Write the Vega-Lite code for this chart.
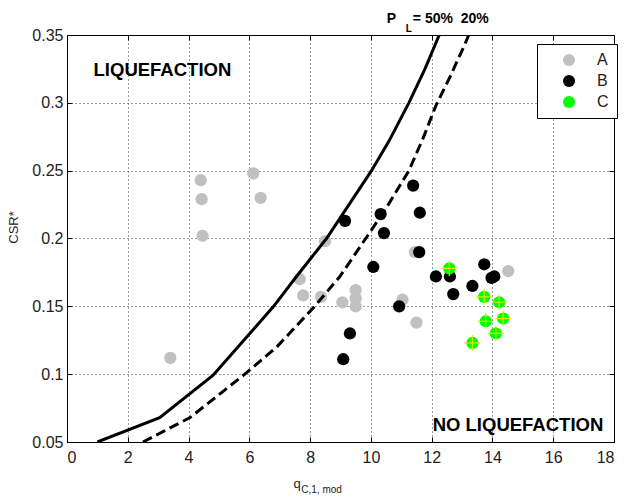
{
  "$schema": "https://vega.github.io/schema/vega-lite/v6.json",
  "width": 547,
  "height": 407,
  "autosize": {"type": "none"},
  "padding": {"left": 67, "top": 35, "right": 13, "bottom": 55},
  "background": "white",
  "config": {
    "font": "Liberation Sans",
    "view": {"stroke": "black", "strokeWidth": 1},
    "axis": {
      "labelFont": "Liberation Sans",
      "labelFontSize": 16,
      "labelColor": "#222222",
      "domainColor": "black",
      "tickColor": "black",
      "gridColor": "#333333",
      "gridDash": [1, 3],
      "gridWidth": 1,
      "tickSize": -5
    }
  },
  "datasets": {
    "pts": [
      {"q": 3.4, "csr": 0.112, "group": "A"},
      {"q": 4.4, "csr": 0.243, "group": "A"},
      {"q": 4.43, "csr": 0.229, "group": "A"},
      {"q": 4.46, "csr": 0.202, "group": "A"},
      {"q": 6.13, "csr": 0.248, "group": "A"},
      {"q": 6.37, "csr": 0.23, "group": "A"},
      {"q": 7.66, "csr": 0.17, "group": "A"},
      {"q": 7.77, "csr": 0.158, "group": "A"},
      {"q": 8.36, "csr": 0.157, "group": "A"},
      {"q": 8.49, "csr": 0.198, "group": "A"},
      {"q": 9.06, "csr": 0.153, "group": "A"},
      {"q": 9.5, "csr": 0.162, "group": "A"},
      {"q": 9.5, "csr": 0.156, "group": "A"},
      {"q": 9.5, "csr": 0.15, "group": "A"},
      {"q": 11.04, "csr": 0.155, "group": "A"},
      {"q": 11.5, "csr": 0.138, "group": "A"},
      {"q": 11.45, "csr": 0.19, "group": "A"},
      {"q": 14.52, "csr": 0.176, "group": "A"},
      {"q": 9.15, "csr": 0.213, "group": "B"},
      {"q": 11.39, "csr": 0.239, "group": "B"},
      {"q": 11.61, "csr": 0.219, "group": "B"},
      {"q": 10.32, "csr": 0.218, "group": "B"},
      {"q": 10.43, "csr": 0.204, "group": "B"},
      {"q": 11.59, "csr": 0.19, "group": "B"},
      {"q": 10.08, "csr": 0.179, "group": "B"},
      {"q": 12.14, "csr": 0.172, "group": "B"},
      {"q": 12.6, "csr": 0.172, "group": "B"},
      {"q": 13.73, "csr": 0.181, "group": "B"},
      {"q": 13.97, "csr": 0.171, "group": "B"},
      {"q": 14.06, "csr": 0.172, "group": "B"},
      {"q": 13.34, "csr": 0.165, "group": "B"},
      {"q": 12.71, "csr": 0.159, "group": "B"},
      {"q": 10.93, "csr": 0.15, "group": "B"},
      {"q": 9.31, "csr": 0.13, "group": "B"},
      {"q": 9.09, "csr": 0.111, "group": "B"},
      {"q": 12.58, "csr": 0.178, "group": "C"},
      {"q": 13.73, "csr": 0.157, "group": "C"},
      {"q": 14.22, "csr": 0.153, "group": "C"},
      {"q": 13.78, "csr": 0.139, "group": "C"},
      {"q": 14.35, "csr": 0.141, "group": "C"},
      {"q": 14.11, "csr": 0.13, "group": "C"},
      {"q": 13.34, "csr": 0.123, "group": "C"}
    ],
    "curves": [
      {"q": 1.0, "csr": 0.05, "pl": "50%"},
      {"q": 3.05, "csr": 0.068, "pl": "50%"},
      {"q": 4.8, "csr": 0.099, "pl": "50%"},
      {"q": 5.9, "csr": 0.127, "pl": "50%"},
      {"q": 6.8, "csr": 0.15, "pl": "50%"},
      {"q": 7.55, "csr": 0.172, "pl": "50%"},
      {"q": 8.54, "csr": 0.2, "pl": "50%"},
      {"q": 10.02, "csr": 0.25, "pl": "50%"},
      {"q": 10.6, "csr": 0.272, "pl": "50%"},
      {"q": 11.25, "csr": 0.3, "pl": "50%"},
      {"q": 11.78, "csr": 0.325, "pl": "50%"},
      {"q": 12.25, "csr": 0.35, "pl": "50%"},
      {"q": 2.5, "csr": 0.05, "pl": "20%"},
      {"q": 4.05, "csr": 0.068, "pl": "20%"},
      {"q": 5.85, "csr": 0.1, "pl": "20%"},
      {"q": 6.9, "csr": 0.12, "pl": "20%"},
      {"q": 8.15, "csr": 0.15, "pl": "20%"},
      {"q": 8.98, "csr": 0.172, "pl": "20%"},
      {"q": 9.83, "csr": 0.2, "pl": "20%"},
      {"q": 10.52, "csr": 0.223, "pl": "20%"},
      {"q": 11.25, "csr": 0.25, "pl": "20%"},
      {"q": 11.72, "csr": 0.274, "pl": "20%"},
      {"q": 12.14, "csr": 0.298, "pl": "20%"},
      {"q": 12.6, "csr": 0.319, "pl": "20%"},
      {"q": 13.09, "csr": 0.343, "pl": "20%"},
      {"q": 13.22, "csr": 0.35, "pl": "20%"}
    ],
    "annot": [
      {"part": "zone", "label": "LIQUEFACTION", "q": 3.14, "csr": 0.3242},
      {"part": "zone", "label": "NO LIQUEFACTION", "q": 14.84, "csr": 0.0627},
      {"part": "pl", "label": "P", "q": 10.52, "csr": 0.3586},
      {"part": "pl", "label": "= 50%\u00a0\u00a020%", "q": 11.38, "csr": 0.3586},
      {"part": "plsub", "label": "L", "q": 11.15, "csr": 0.3524},
      {"part": "xt", "label": "q", "q": 7.45, "csr": 0.0163},
      {"part": "xtsub", "label": "C,1, mod", "q": 7.71, "csr": 0.0122}
    ]
  },
  "layer": [
    {
      "data": {"name": "pts"},
      "mark": {"type": "point", "filled": true, "shape": "circle", "size": 150, "opacity": 1},
      "encoding": {
        "x": {
          "field": "q", "type": "quantitative",
          "scale": {"domain": [0, 18], "nice": false, "zero": false},
          "axis": {"orient": "bottom", "values": [0, 2, 4, 6, 8, 10, 12, 14, 16, 18], "grid": true, "title": null, "labelPadding": 12}
        },
        "y": {
          "field": "csr", "type": "quantitative",
          "scale": {"domain": [0.05, 0.35], "nice": false, "zero": false},
          "axis": {
            "orient": "left", "values": [0.05, 0.1, 0.15, 0.2, 0.25, 0.3, 0.35], "format": ".2~f", "grid": true,
            "labelPadding": 9,
            "title": "CSR*", "titleFont": "Liberation Sans", "titleFontSize": 13, "titleFontWeight": "normal", "titleColor": "#222222",
            "titleAngle": 270, "titleX": -54, "titleY": 192, "titleAlign": "center", "titleBaseline": "middle"
          }
        },
        "color": {
          "field": "group", "type": "nominal",
          "scale": {"domain": ["A", "B", "C"], "range": ["#c0c0c0", "#000000", "#00ff00"]},
          "legend": {
            "title": null, "orient": "none", "legendX": 470, "legendY": 9, "direction": "vertical",
            "fillColor": "white", "strokeColor": "black", "padding": 8, "cornerRadius": 0,
            "symbolType": "circle", "symbolSize": 144, "symbolStrokeWidth": 0, "symbolOffset": 16,
            "labelFont": "Liberation Sans", "labelFontSize": 16, "labelColor": "#222222", "labelOffset": 20, "rowPadding": 5
          }
        }
      }
    },
    {
      "data": {"name": "pts"},
      "transform": [{"filter": "datum.group === 'C'"}],
      "mark": {"type": "point", "shape": "M-1,0L1,0M0,-1L0,1", "size": 256, "filled": false, "stroke": "#d8f000", "strokeWidth": 1.2, "opacity": 1},
      "encoding": {
        "x": {"field": "q", "type": "quantitative", "scale": {"domain": [0, 18], "nice": false, "zero": false}, "axis": null},
        "y": {"field": "csr", "type": "quantitative", "scale": {"domain": [0.05, 0.35], "nice": false, "zero": false}, "axis": null}
      }
    },
    {
      "data": {"name": "curves"},
      "transform": [{"filter": "datum.pl === '50%'"}],
      "mark": {"type": "line", "color": "black", "strokeWidth": 3, "clip": true},
      "encoding": {
        "x": {
          "field": "q", "type": "quantitative", "scale": {"domain": [0, 18], "nice": false, "zero": false},
          "axis": {"orient": "top", "values": [0, 2, 4, 6, 8, 10, 12, 14, 16, 18], "labels": false, "grid": false, "title": null}
        },
        "y": {
          "field": "csr", "type": "quantitative", "scale": {"domain": [0.05, 0.35], "nice": false, "zero": false},
          "axis": {"orient": "right", "values": [0.05, 0.1, 0.15, 0.2, 0.25, 0.3, 0.35], "labels": false, "grid": false, "title": null}
        }
      }
    },
    {
      "data": {"name": "curves"},
      "transform": [{"filter": "datum.pl === '20%'"}],
      "mark": {"type": "line", "color": "black", "strokeWidth": 3, "strokeDash": [10, 5], "clip": true},
      "encoding": {
        "x": {"field": "q", "type": "quantitative", "scale": {"domain": [0, 18], "nice": false, "zero": false}, "axis": null},
        "y": {"field": "csr", "type": "quantitative", "scale": {"domain": [0.05, 0.35], "nice": false, "zero": false}, "axis": null}
      }
    },
    {
      "data": {"name": "annot"},
      "transform": [{"filter": "datum.part === 'zone'"}],
      "mark": {"type": "text", "font": "Liberation Sans", "fontSize": 18.5, "fontWeight": "bold", "color": "black", "align": "center", "baseline": "middle"},
      "encoding": {
        "x": {"field": "q", "type": "quantitative", "scale": {"domain": [0, 18], "nice": false, "zero": false}, "axis": null},
        "y": {"field": "csr", "type": "quantitative", "scale": {"domain": [0.05, 0.35], "nice": false, "zero": false}, "axis": null},
        "text": {"field": "label"}
      }
    },
    {
      "data": {"name": "annot"},
      "transform": [{"filter": "datum.part === 'pl'"}],
      "mark": {"type": "text", "font": "Liberation Sans", "fontSize": 14, "fontWeight": "bold", "color": "black", "align": "left", "baseline": "alphabetic"},
      "encoding": {
        "x": {"field": "q", "type": "quantitative", "scale": {"domain": [0, 18], "nice": false, "zero": false}, "axis": null},
        "y": {"field": "csr", "type": "quantitative", "scale": {"domain": [0.05, 0.35], "nice": false, "zero": false}, "axis": null},
        "text": {"field": "label"}
      }
    },
    {
      "data": {"name": "annot"},
      "transform": [{"filter": "datum.part === 'plsub'"}],
      "mark": {"type": "text", "font": "Liberation Sans", "fontSize": 10, "fontWeight": "bold", "color": "black", "align": "left", "baseline": "alphabetic"},
      "encoding": {
        "x": {"field": "q", "type": "quantitative", "scale": {"domain": [0, 18], "nice": false, "zero": false}, "axis": null},
        "y": {"field": "csr", "type": "quantitative", "scale": {"domain": [0.05, 0.35], "nice": false, "zero": false}, "axis": null},
        "text": {"field": "label"}
      }
    },
    {
      "data": {"name": "annot"},
      "transform": [{"filter": "datum.part === 'xt'"}],
      "mark": {"type": "text", "font": "Liberation Sans", "fontSize": 13, "color": "#222222", "align": "left", "baseline": "alphabetic"},
      "encoding": {
        "x": {"field": "q", "type": "quantitative", "scale": {"domain": [0, 18], "nice": false, "zero": false}, "axis": null},
        "y": {"field": "csr", "type": "quantitative", "scale": {"domain": [0.05, 0.35], "nice": false, "zero": false}, "axis": null},
        "text": {"field": "label"}
      }
    },
    {
      "data": {"name": "annot"},
      "transform": [{"filter": "datum.part === 'xtsub'"}],
      "mark": {"type": "text", "font": "Liberation Sans", "fontSize": 10, "color": "#222222", "align": "left", "baseline": "alphabetic"},
      "encoding": {
        "x": {"field": "q", "type": "quantitative", "scale": {"domain": [0, 18], "nice": false, "zero": false}, "axis": null},
        "y": {"field": "csr", "type": "quantitative", "scale": {"domain": [0.05, 0.35], "nice": false, "zero": false}, "axis": null},
        "text": {"field": "label"}
      }
    }
  ],
  "resolve": {"axis": {"x": "independent", "y": "independent"}}
}
